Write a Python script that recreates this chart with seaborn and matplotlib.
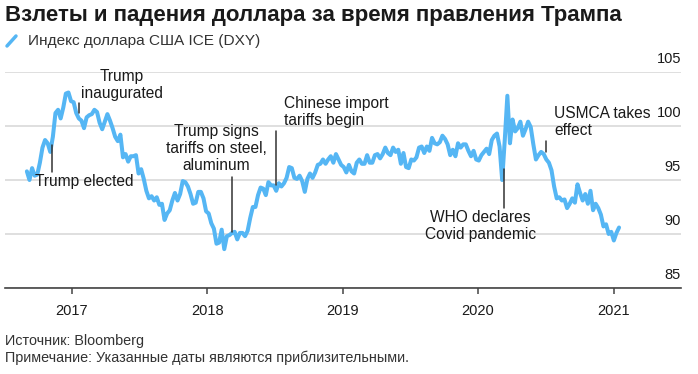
import matplotlib
matplotlib.use("Agg")
import matplotlib.pyplot as plt
import pandas as pd
import seaborn as sns
from matplotlib.lines import Line2D

# Weekly DXY closes (Fridays)
dxy_2016 = [95.8, 95.0, 96.1, 95.4, 95.5, 96.6, 98.0, 98.7, 98.4, 97.6, 99.0, 101.2,
            101.5, 100.7, 101.7, 103.0, 103.1, 102.3]
dxy_2017 = [102.2, 101.2, 100.7, 100.5, 99.8, 100.8, 101.0, 101.1, 101.5, 101.3, 100.3,
            99.7, 100.4, 101.1, 100.5, 99.8, 99.0, 98.6, 99.2, 97.1, 97.4, 96.7, 97.2,
            97.2, 97.3, 95.6, 96.0, 95.1, 94.0, 93.3, 93.5, 93.1, 93.4, 92.7, 92.8, 91.3,
            91.9, 92.2, 93.1, 93.8, 93.1, 93.7, 94.9, 94.8, 94.4, 93.7, 92.8, 92.9, 93.9,
            93.9, 93.3, 92.1]
dxy_2018 = [91.9, 91.0, 90.5, 89.1, 89.2, 90.4, 88.6, 89.8, 89.9, 90.1, 90.2, 89.5, 90.1,
            90.1, 89.8, 90.3, 91.5, 92.5, 92.5, 93.6, 94.3, 94.2, 93.6, 94.8, 94.5, 94.5,
            94.0, 94.7, 94.4, 94.7, 95.2, 96.2, 96.1, 95.2, 95.1, 95.4, 94.9, 93.9, 95.1,
            95.6, 95.2, 95.7, 96.4, 96.5, 96.9, 96.5, 96.9, 97.2, 96.6, 97.4, 96.9, 96.4]
dxy_2019 = [96.2, 95.7, 96.4, 95.8, 95.6, 96.6, 96.9, 96.5, 96.5, 97.3, 96.6, 96.6, 97.3,
            97.4, 97.0, 97.4, 98.0, 97.5, 97.3, 98.0, 97.6, 97.8, 96.5, 97.5, 96.2, 96.1,
            96.9, 96.8, 97.1, 98.0, 98.1, 97.5, 98.1, 97.7, 98.9, 98.4, 98.3, 98.5, 99.1,
            98.8, 98.3, 97.3, 97.8, 97.2, 98.4, 98.0, 98.3, 98.3, 97.7, 97.2, 97.7, 96.9]
dxy_2020 = [96.8, 97.3, 97.6, 97.9, 97.4, 98.7, 99.1, 99.3, 98.1, 95.0, 98.7, 102.8, 98.4,
            100.6, 99.5, 99.8, 100.4, 99.1, 99.7, 100.4, 99.9, 98.3, 96.9, 97.3, 97.6,
            97.4, 96.9, 96.6, 95.9, 94.4, 93.3, 93.4, 93.1, 93.2, 92.4, 92.8, 93.3, 92.9,
            94.6, 93.8, 93.1, 93.7, 92.8, 94.0, 92.2, 92.8, 92.4, 91.8, 90.7, 90.9, 90.0,
            90.2]
dxy_2021 = [89.4, 90.1, 90.6]

dxy = dxy_2016 + dxy_2017 + dxy_2018 + dxy_2019 + dxy_2020 + dxy_2021
weeks = pd.date_range("2016-09-02", periods=len(dxy), freq="W-FRI")
df = pd.DataFrame({"date": weeks, "dxy": dxy})

years = ["2017", "2018", "2019", "2020", "2021"]
y_ticks = [85, 90, 95, 100, 105]

event_dates = ["2016-11-08", "2017-01-20", "2018-03-08", "2018-07-06", "2020-03-11", "2020-07-01"]
event_labels = ["Trump elected", "Trump\ninaugurated", "Trump signs\ntariffs on steel,\naluminum",
                "Chinese import\ntariffs begin", "WHO declares\nCovid pandemic", "USMCA takes\neffect"]

BLUE = "#55b6f4"
INK = "#1a1a1a"

sns.set_theme(style="white")
plt.rcParams["font.family"] = ["Liberation Sans", "DejaVu Sans"]

fig = plt.figure(figsize=(6.98, 3.74), dpi=100)
ax = fig.add_axes([5 / 698, 86 / 374, 676 / 698, 216 / 374])

sns.lineplot(data=df, x="date", y="dxy", ax=ax, color=BLUE, linewidth=2.9, zorder=2)

ax.set_xlim(pd.Timestamp("2016-07-05"), pd.Timestamp("2021-07-01"))
ax.set_ylim(85, 105)
ax.set_xlabel("")
ax.set_ylabel("")

# grid + right-side labels sitting above the lines
ax.set_yticks(y_ticks)
ax.yaxis.grid(True, color="#dcdcdc", linewidth=1.3)
ax.tick_params(axis="y", left=False, labelleft=False)
for v in y_ticks:
    ax.annotate(str(v), xy=(1, v), xycoords=("axes fraction", "data"),
                xytext=(0, 6.5), textcoords="offset points",
                ha="right", va="baseline", fontsize=10.5, color=INK)

ax.set_xticks(pd.to_datetime([y + "-01-01" for y in years]))
ax.set_xticklabels(years)
ax.tick_params(axis="x", bottom=True, direction="out", length=4.3, width=1.1,
               color="#444444", labelsize=10.5, labelcolor=INK, pad=7)

for side in ["top", "right", "left"]:
    ax.spines[side].set_visible(False)
ax.spines["bottom"].set_color("#444444")
ax.spines["bottom"].set_linewidth(1.2)
ax.spines["bottom"].set_zorder(3)

# event markers
line_spans = [(95.7, 98.2), (101.2, 102.1), (90.2, 95.3), (94.5, 99.5), (92.4, 96.0), (97.6, 98.6)]
text_spots = [("2016-09-24", 94.9, "left"), ("2017-05-16", 103.8, "center"),
              ("2018-01-26", 97.9, "center"), ("2018-07-27", 101.3, "left"),
              ("2020-01-08", 90.75, "center"), ("2020-07-24", 100.4, "left")]
for d, lab, (y0, y1), (tx, ty, ha) in zip(event_dates, event_labels, line_spans, text_spots):
    d = pd.Timestamp(d)
    ax.plot([d, d], [y0, y1], color="#333333", linewidth=1.1, zorder=3)
    ax.text(pd.Timestamp(tx), ty, lab, ha=ha, va="center", fontsize=11.2,
            color=INK, linespacing=1.15, zorder=4)

# title, legend, footer
fig.text(5 / 698, 1 - 15 / 374, "Взлеты и падения доллара за время правления Трампа",
         fontsize=16, fontweight="bold", color=INK, va="center")
fig.add_artist(Line2D([7 / 698, 16 / 698], [1 - 46 / 374, 1 - 36 / 374],
                      color=BLUE, linewidth=2.5, transform=fig.transFigure))
fig.text(28 / 698, 1 - 41 / 374, "Индекс доллара США ICE (DXY)",
         fontsize=11.1, color="#333333", va="center")
fig.text(5 / 698, 1 - 341 / 374, "Источник: Bloomberg",
         fontsize=10.4, color="#333333", va="center")
fig.text(5 / 698, 1 - 358 / 374, "Примечание: Указанные даты являются приблизительными.",
         fontsize=10.4, color="#333333", va="center")

fig.savefig("out.png", dpi=100)
plt.close(fig)
